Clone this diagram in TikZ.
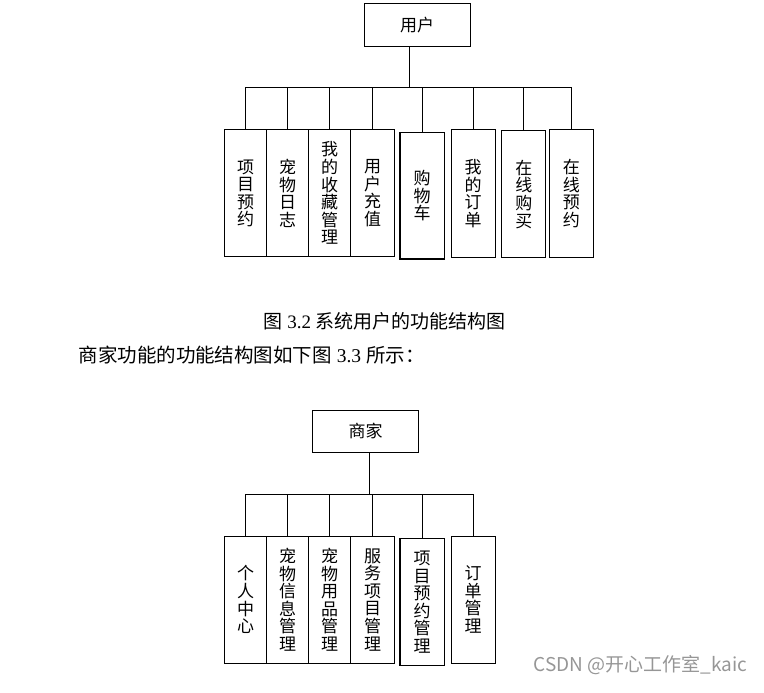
\documentclass[tikz,border=0pt]{standalone}
\usepackage{fontspec}
\setmainfont{Liberation Serif}
\newfontfamily\cjk{Noto Sans CJK SC}
\definecolor{wmgray}{RGB}{150,150,150}
\tikzset{
  boxv/.style={draw=black, line width=1pt, inner sep=0pt, align=center,
    font=\cjk\fontsize{17}{17.6}\selectfont},
  boxb/.style={boxv, line width=1.3pt},
  topbox/.style={draw=black, line width=1pt, inner sep=0pt,
    minimum width=105.7pt, minimum height=42.3pt,
    font=\cjk\fontsize{17}{18}\selectfont},
  link/.style={line width=1pt, black},
}
\begin{document}
\begin{tikzpicture}[x=1pt,y=-1pt]
\useasboundingbox (0,0) rectangle (764,693);
% ---------- top diagram ----------
\node[topbox] (u) at (417.2,25) {用户};
\coordinate (ub) at (409,88);
\draw[link] (ub |- u.south) -- (ub);
\node[boxv, minimum width=42.4pt, minimum height=126.7pt] (a1) at (245.5,193.3) {项\\目\\预\\约};
\node[boxv, minimum width=41.6pt, minimum height=126.7pt] (a2) at (287.5,193.3) {宠\\物\\日\\志};
\node[boxv, minimum width=42.4pt, minimum height=126.7pt] (a3) at (329.5,193.3) {我\\的\\收\\藏\\管\\理};
\node[boxv, minimum width=43.6pt, minimum height=126.7pt] (a4) at (372.5,193.3) {用\\户\\充\\值};
\node[boxb, minimum width=44.3pt, minimum height=126.3pt] (a5) at (422.2,195.8) {购\\物\\车};
\node[boxv, minimum width=44pt, minimum height=127pt] (a6) at (473,193.5) {我\\的\\订\\单};
\node[boxv, minimum width=43.7pt, minimum height=127pt] (a7) at (523.8,194.2) {在\\线\\购\\买};
\node[boxv, minimum width=44pt, minimum height=127pt] (a8) at (571.3,193.5) {在\\线\\预\\约};
\foreach \n in {a1,a2,a3,a4,a5,a6,a7,a8}{
  \draw[link] (\n.north) |- (ub);
}
% ---------- captions ----------
\node[anchor=west, inner sep=0pt, font=\fontsize{19}{21}\selectfont] (cap) at (263.3,321)
  {{\cjk 图} 3.2 {\cjk 系统用户的功能结构图}};
\node[anchor=west, inner sep=0pt, font=\fontsize{19.5}{21}\selectfont] (txt) at (78.3,355)
  {{\cjk 商家功能的功能结构图如下图} 3.3 {\cjk 所示：}};
% ---------- bottom diagram ----------
\node[topbox] (s) at (365.5,431.2) {商家};
\coordinate (sb) at (369.3,494.3);
\draw[link] (sb |- s.south) -- (sb);
\node[boxv, minimum width=42.4pt, minimum height=127.3pt] (b1) at (245.5,599.7) {个\\人\\中\\心};
\node[boxv, minimum width=41.6pt, minimum height=127.3pt] (b2) at (287.5,599.7) {宠\\物\\信\\息\\管\\理};
\node[boxv, minimum width=42.4pt, minimum height=127.3pt] (b3) at (329.5,599.7) {宠\\物\\用\\品\\管\\理};
\node[boxv, minimum width=43.6pt, minimum height=127.3pt] (b4) at (372.5,599.7) {服\\务\\项\\目\\管\\理};
\node[boxb, minimum width=44.3pt, minimum height=127pt] (b5) at (422.2,602.2) {项\\目\\预\\约\\管\\理};
\node[boxv, minimum width=44pt, minimum height=127pt] (b6) at (473,599.5) {订\\单\\管\\理};
\foreach \n in {b1,b2,b3,b4,b5,b6}{
  \draw[link] (\n.north) |- (sb);
}
% ---------- watermark ----------
\node[anchor=west, inner sep=0pt, text=wmgray, font=\cjk\fontsize{19}{21}\selectfont] (wm) at (533.3,665) {CSDN @开心工作室\_kaic};
\end{tikzpicture}
\end{document}
